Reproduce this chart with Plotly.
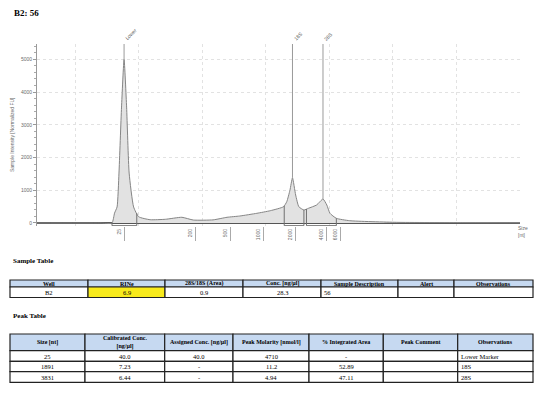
import numpy as np
import plotly.graph_objects as go

# ---------------- data ----------------
# electropherogram (run-time units vs normalized FU)
trace_x = [14.0, 23.9, 25.8, 26.2, 26.6, 26.9, 27.3, 27.7, 28.1, 28.5, 29.2, 30.0, 31.8, 34.2,
           36.8, 38.6, 41.7, 43.9, 45.9, 48.6, 50.7, 52.8, 53.3, 53.8, 54.2, 54.7, 55.2, 56.0,
           56.7, 58.0, 59.0, 59.6, 60.1, 61.1, 63.2, 70.6, 81.0, 90.0]
trace_y = [0, 0, 0, 300, 490, 1525, 3540, 5000, 3540, 1525, 490, 190, 100, 113,
           174, 90, 95, 174, 213, 296, 375, 497, 650, 1000, 1380, 855, 497, 397,
           448, 550, 732, 550, 296, 143, 70, 20, 12, 5]

peak_names = ["Lower", "18S", "28S"]
peak_pos = [27.7, 54.2, 59.0]
peak_height = [5000, 1380, 732]
region_start = [25.8, 52.9, 56.4]
region_end = [29.7, 56.0, 61.1]

ladder_labels = ["25", "200", "500", "1000", "2000", "4000", "6000"]
ladder_pos = [27.7, 38.9, 44.5, 49.6, 54.6, 59.5, 61.8]

# sample table
s_headers = ["Well", "RINe", "28S/18S (Area)", "Conc. [ng/µl]", "Sample Description", "Alert", "Observations"]
s_well = ["B2"]
s_rine = ["6.9"]
s_ratio = ["0.9"]
s_conc = ["28.3"]
s_desc = ["56"]
s_alert = [""]
s_obs = [""]

# peak table
p_headers = ["Size [nt]", "Calibrated Conc.<br>[ng/µl]", "Assigned Conc. [ng/µl]", "Peak Molarity [nmol/l]",
             "% Integrated Area", "Peak Comment", "Observations"]
p_size = ["25", "1891", "3831"]
p_calib = ["40.0", "7.23", "6.44"]
p_assigned = ["40.0", "-", "-"]
p_molarity = ["4710", "11.2", "4.94"]
p_area = ["-", "52.89", "47.11"]
p_comment = ["", "", ""]
p_obs = ["Lower Marker", "18S", "28S"]

# ---------------- layout constants ----------------
OFF = 8                      # page body margin
W, H = 558 - OFF, 397 - OFF  # figure size
X_RANGE = [14, 90]
Y_RANGE = [-92, 5467]
BRACKET = -82
SANS = "Liberation Sans"
SERIF = "Liberation Serif"
GREY = "#6b6b6b"


def px(x):
    return (x - OFF) / W


def py(y):
    return 1 - (y - OFF) / H


fig = go.Figure()

# curve
fig.add_trace(go.Scatter(x=trace_x, y=trace_y, mode="lines", fill="tozeroy",
                         fillcolor="#e2e2e2", line=dict(color="#858585", width=1, shape="spline", smoothing=0.5),
                         hoverinfo="skip", showlegend=False))

# integration brackets
for x0, x1 in zip(region_start, region_end):
    ya = float(np.interp(x0, trace_x, trace_y))
    yb = float(np.interp(x1, trace_x, trace_y))
    fig.add_trace(go.Scatter(x=[x0, x0, x1, x1], y=[ya, BRACKET, BRACKET, yb], mode="lines",
                             line=dict(color="#707070", width=1), hoverinfo="skip", showlegend=False))

# peak marker lines and labels
for name, xp, hp in zip(peak_names, peak_pos, peak_height):
    fig.add_shape(type="line", xref="x", yref="y", x0=xp, x1=xp, y0=hp, y1=Y_RANGE[1],
                  line=dict(color="#9a9a9a", width=1))
    fig.add_annotation(x=xp, y=Y_RANGE[1], xref="x", yref="y", text=name, showarrow=False,
                       textangle=-45, xanchor="left", yanchor="bottom", xshift=-3, yshift=0,
                       font=dict(family=SANS, size=5, color="#555"))

fig.update_layout(
    width=W, height=H, margin=dict(l=0, r=0, t=0, b=0),
    paper_bgcolor="white", plot_bgcolor="white", showlegend=False,
    xaxis=dict(domain=[px(37), px(520)], range=X_RANGE, tickmode="array", tickvals=ladder_pos,
               ticktext=ladder_labels, tickangle=-90, ticks="outside", ticklen=14, tickcolor="#aaaaaa",
               tickwidth=1, ticklabelstandoff=-14, ticklabelshift=-5,
               tickfont=dict(family=SANS, size=5, color=GREY),
               showgrid=False, zeroline=False, showline=False,
               minor=dict(tickmode="linear", tick0=20, dtick=10, showgrid=True,
                          gridcolor="#e2e2e2", griddash="dot", ticks="")),
    yaxis=dict(domain=[py(226), py(44)], range=Y_RANGE, tick0=0, dtick=1000, ticks="outside", ticklen=3,
               tickcolor="#999", showline=True, linecolor="#9a9a9a", linewidth=1,
               showgrid=True, gridcolor="#e2e2e2", griddash="dot",
               zeroline=True, zerolinecolor="#555", zerolinewidth=1.5,
               tickfont=dict(family=SANS, size=5, color=GREY),
               minor=dict(dtick=200, ticks="outside", ticklen=2, tickcolor="#aaa", showgrid=False)),
)

# text annotations
fig.add_annotation(x=px(12), y=py(13.5), xref="paper", yref="paper", text="<b>B2: 56</b>",
                   showarrow=False, xanchor="left", yanchor="middle",
                   font=dict(family=SERIF, size=9, color="black"))
fig.add_annotation(x=px(12), y=py(135), xref="paper", yref="paper",
                   text="Sample Intensity [Normalized FU]", textangle=-90, showarrow=False,
                   xanchor="center", yanchor="middle", font=dict(family=SANS, size=5, color=GREY))
fig.add_annotation(x=px(516), y=py(231), xref="paper", yref="paper", text="Size<br>[nt]",
                   showarrow=False, xanchor="left", yanchor="middle", align="left",
                   font=dict(family=SANS, size=5, color=GREY))
fig.add_annotation(x=px(11), y=py(261), xref="paper", yref="paper", text="<b>Sample Table</b>",
                   showarrow=False, xanchor="left", yanchor="middle",
                   font=dict(family=SERIF, size=7, color="black"))
fig.add_annotation(x=px(11), y=py(316), xref="paper", yref="paper", text="<b>Peak Table</b>",
                   showarrow=False, xanchor="left", yanchor="middle",
                   font=dict(family=SERIF, size=7, color="black"))

HEAD_FILL = "#c6d9f1"
BORDER = dict(color="#222222", width=1.2)


def draw_table(col_edges, row_edges, headers, columns, aligns, fills):
    """Draw a table from column/row edges (page px) with header + body cells."""
    ncols = len(headers)
    nrows = len(columns[0])
    # header
    for c in range(ncols):
        x0, x1 = col_edges[c], col_edges[c + 1]
        y0, y1 = row_edges[0], row_edges[1]
        fig.add_shape(type="rect", xref="paper", yref="paper", x0=px(x0), x1=px(x1), y0=py(y1), y1=py(y0),
                      fillcolor=HEAD_FILL, line=BORDER, layer="above")
        fig.add_annotation(x=px((x0 + x1) / 2), y=py((y0 + y1) / 2), xref="paper", yref="paper",
                           text="<b>%s</b>" % headers[c], showarrow=False, xanchor="center", yanchor="middle",
                           font=dict(family=SERIF, size=6, color="black"))
    # body
    for r in range(nrows):
        y0, y1 = row_edges[r + 1], row_edges[r + 2]
        for c in range(ncols):
            x0, x1 = col_edges[c], col_edges[c + 1]
            fig.add_shape(type="rect", xref="paper", yref="paper", x0=px(x0), x1=px(x1), y0=py(y1),
                          y1=py(y0), fillcolor=fills[c][r], line=BORDER, layer="above")
            if aligns[c] == "left":
                tx, xa = px(x0 + 1), "left"
            else:
                tx, xa = px((x0 + x1) / 2), "center"
            fig.add_annotation(x=tx, y=py((y0 + y1) / 2), xref="paper", yref="paper",
                               text=columns[c][r], showarrow=False, xanchor=xa, yanchor="middle",
                               font=dict(family=SERIF, size=6.5, color="black"))


# sample table
draw_table([10, 88, 165, 243, 321, 398, 454, 533], [280, 287, 297.5], s_headers,
           [s_well, s_rine, s_ratio, s_conc, s_desc, s_alert, s_obs],
           ["center", "center", "center", "center", "left", "center", "center"],
           [["white"], ["#f8ea1c"], ["white"], ["white"], ["white"], ["white"], ["white"]])

# peak table
draw_table([10, 85, 164.7, 233, 309, 383.3, 457.7, 533], [334, 350.7, 361.3, 371.7, 382.3], p_headers,
           [p_size, p_calib, p_assigned, p_molarity, p_area, p_comment, p_obs],
           ["center", "center", "center", "center", "center", "center", "left"],
           [["white"] * 3 for _ in range(7)])

fig.write_html("out.html")
